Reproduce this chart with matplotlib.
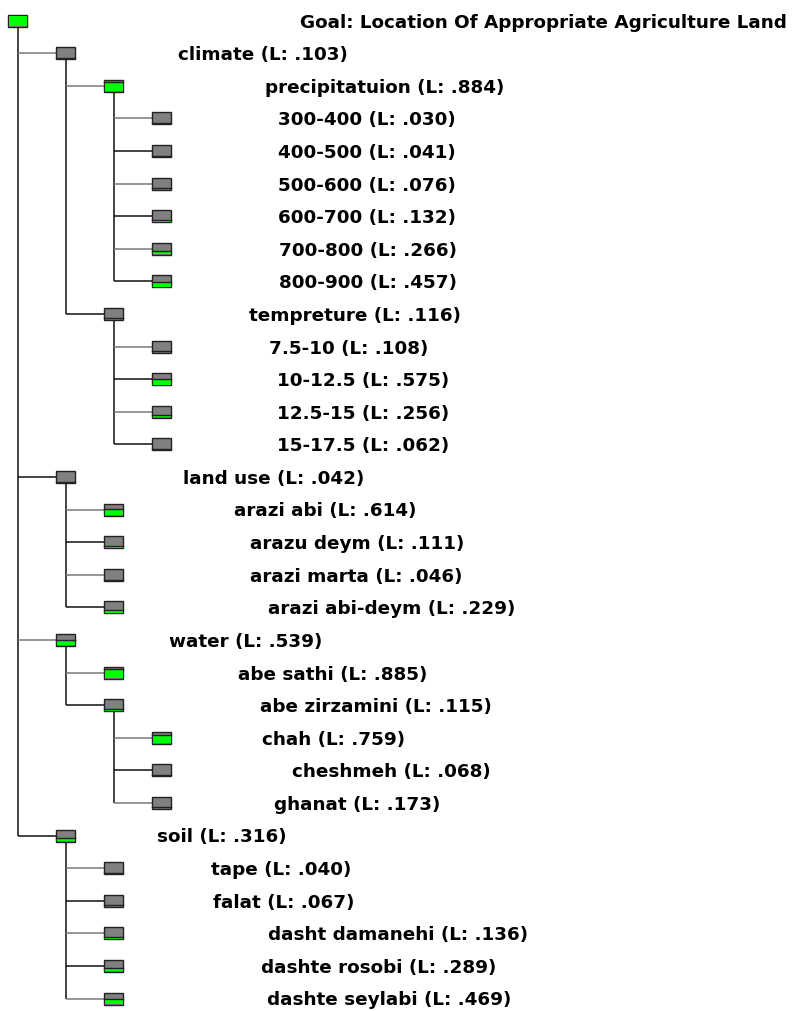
import matplotlib
matplotlib.use('Agg')
import matplotlib.pyplot as plt
from matplotlib.patches import Rectangle

# hierarchy, one row per node, top to bottom
names = ['Goal: Location Of Appropriate Agriculture Land',
         'climate', 'precipitatuion',
         '300-400', '400-500', '500-600', '600-700', '700-800', '800-900',
         'tempreture', '7.5-10', '10-12.5', '12.5-15', '15-17.5',
         'land use', 'arazi abi', 'arazu deym', 'arazi marta', 'arazi abi-deym',
         'water', 'abe sathi', 'abe zirzamini', 'chah', 'cheshmeh', 'ghanat',
         'soil', 'tape', 'falat', 'dasht damanehi', 'dashte rosobi', 'dashte seylabi']
depths = [0,
          1, 2, 3, 3, 3, 3, 3, 3,
          2, 3, 3, 3, 3,
          1, 2, 2, 2, 2,
          1, 2, 2, 3, 3, 3,
          1, 2, 2, 2, 2, 2]
local_w = [None,
           .103, .884, .030, .041, .076, .132, .266, .457,
           .116, .108, .575, .256, .062,
           .042, .614, .111, .046, .229,
           .539, .885, .115, .759, .068, .173,
           .316, .040, .067, .136, .289, .469]

# label left edges (layout, pixels)
label_x = [300,
           178, 265, 278, 278, 278, 278, 279, 279,
           249, 269, 277, 277, 277,
           183, 234, 250, 250, 268,
           169, 238, 260, 262, 292, 274,
           157, 211, 213, 268, 261, 267]

W, H = 801, 1012
row0, row_h = 21.5, 32.6
box_x0, box_dx, box_w, box_h = 8, 48, 19, 12

fig = plt.figure(figsize=(W / 100, H / 100), dpi=100)
ax = fig.add_axes([0, 0, 1, 1])
ax.set_xlim(0, W)
ax.set_ylim(H, 0)
ax.axis('off')


def rowY(i):
    return row0 + row_h * i


def boxLeft(d):
    return box_x0 + box_dx * d


# connectors
for i, d in enumerate(depths):
    kids = []
    for j in range(i + 1, len(depths)):
        if depths[j] <= d:
            break
        if depths[j] == d + 1:
            kids.append(j)
    if not kids:
        continue
    vx = boxLeft(d) + box_w / 2
    ax.plot([vx, vx], [rowY(i) + box_h / 2, rowY(kids[-1])], color='#111111', lw=1.1,
            solid_capstyle='butt', zorder=1)
    for k, j in enumerate(kids):
        col = '#7a7a7a' if k % 2 == 0 else '#111111'
        ax.plot([vx, boxLeft(depths[j])], [rowY(j), rowY(j)], color=col, lw=1.1,
                solid_capstyle='butt', zorder=1)

# boxes
for i, d in enumerate(depths):
    x = boxLeft(d)
    y = rowY(i)
    top = y - box_h / 2
    lw = local_w[i] if local_w[i] is not None else 1.0
    ax.add_patch(Rectangle((x, top), box_w, box_h, facecolor='#808080',
                           edgecolor='#222222', lw=1.0, zorder=2))
    gh = (box_h - 1.5) * lw
    if gh > 0.3:
        ax.add_patch(Rectangle((x + 0.5, top + box_h - 0.5 - gh), box_w - 1, gh,
                               facecolor='#00ff00', edgecolor='none', zorder=3))
        if lw < 0.99:
            gy = top + box_h - 0.5 - gh
            ax.plot([x, x + box_w], [gy, gy], color='#222222', lw=1.0, zorder=4)

    if local_w[i] is None:
        label = names[i]
    else:
        label = f'{names[i]} (L: {local_w[i]:.3f})'.replace('0.', '.', 1)
    ax.text(label_x[i], y + 1, label, ha='left', va='center', fontsize=13.2,
            fontweight='bold', family='DejaVu Sans', color='black', zorder=5)

fig.savefig('out.png', dpi=100, facecolor='white')
